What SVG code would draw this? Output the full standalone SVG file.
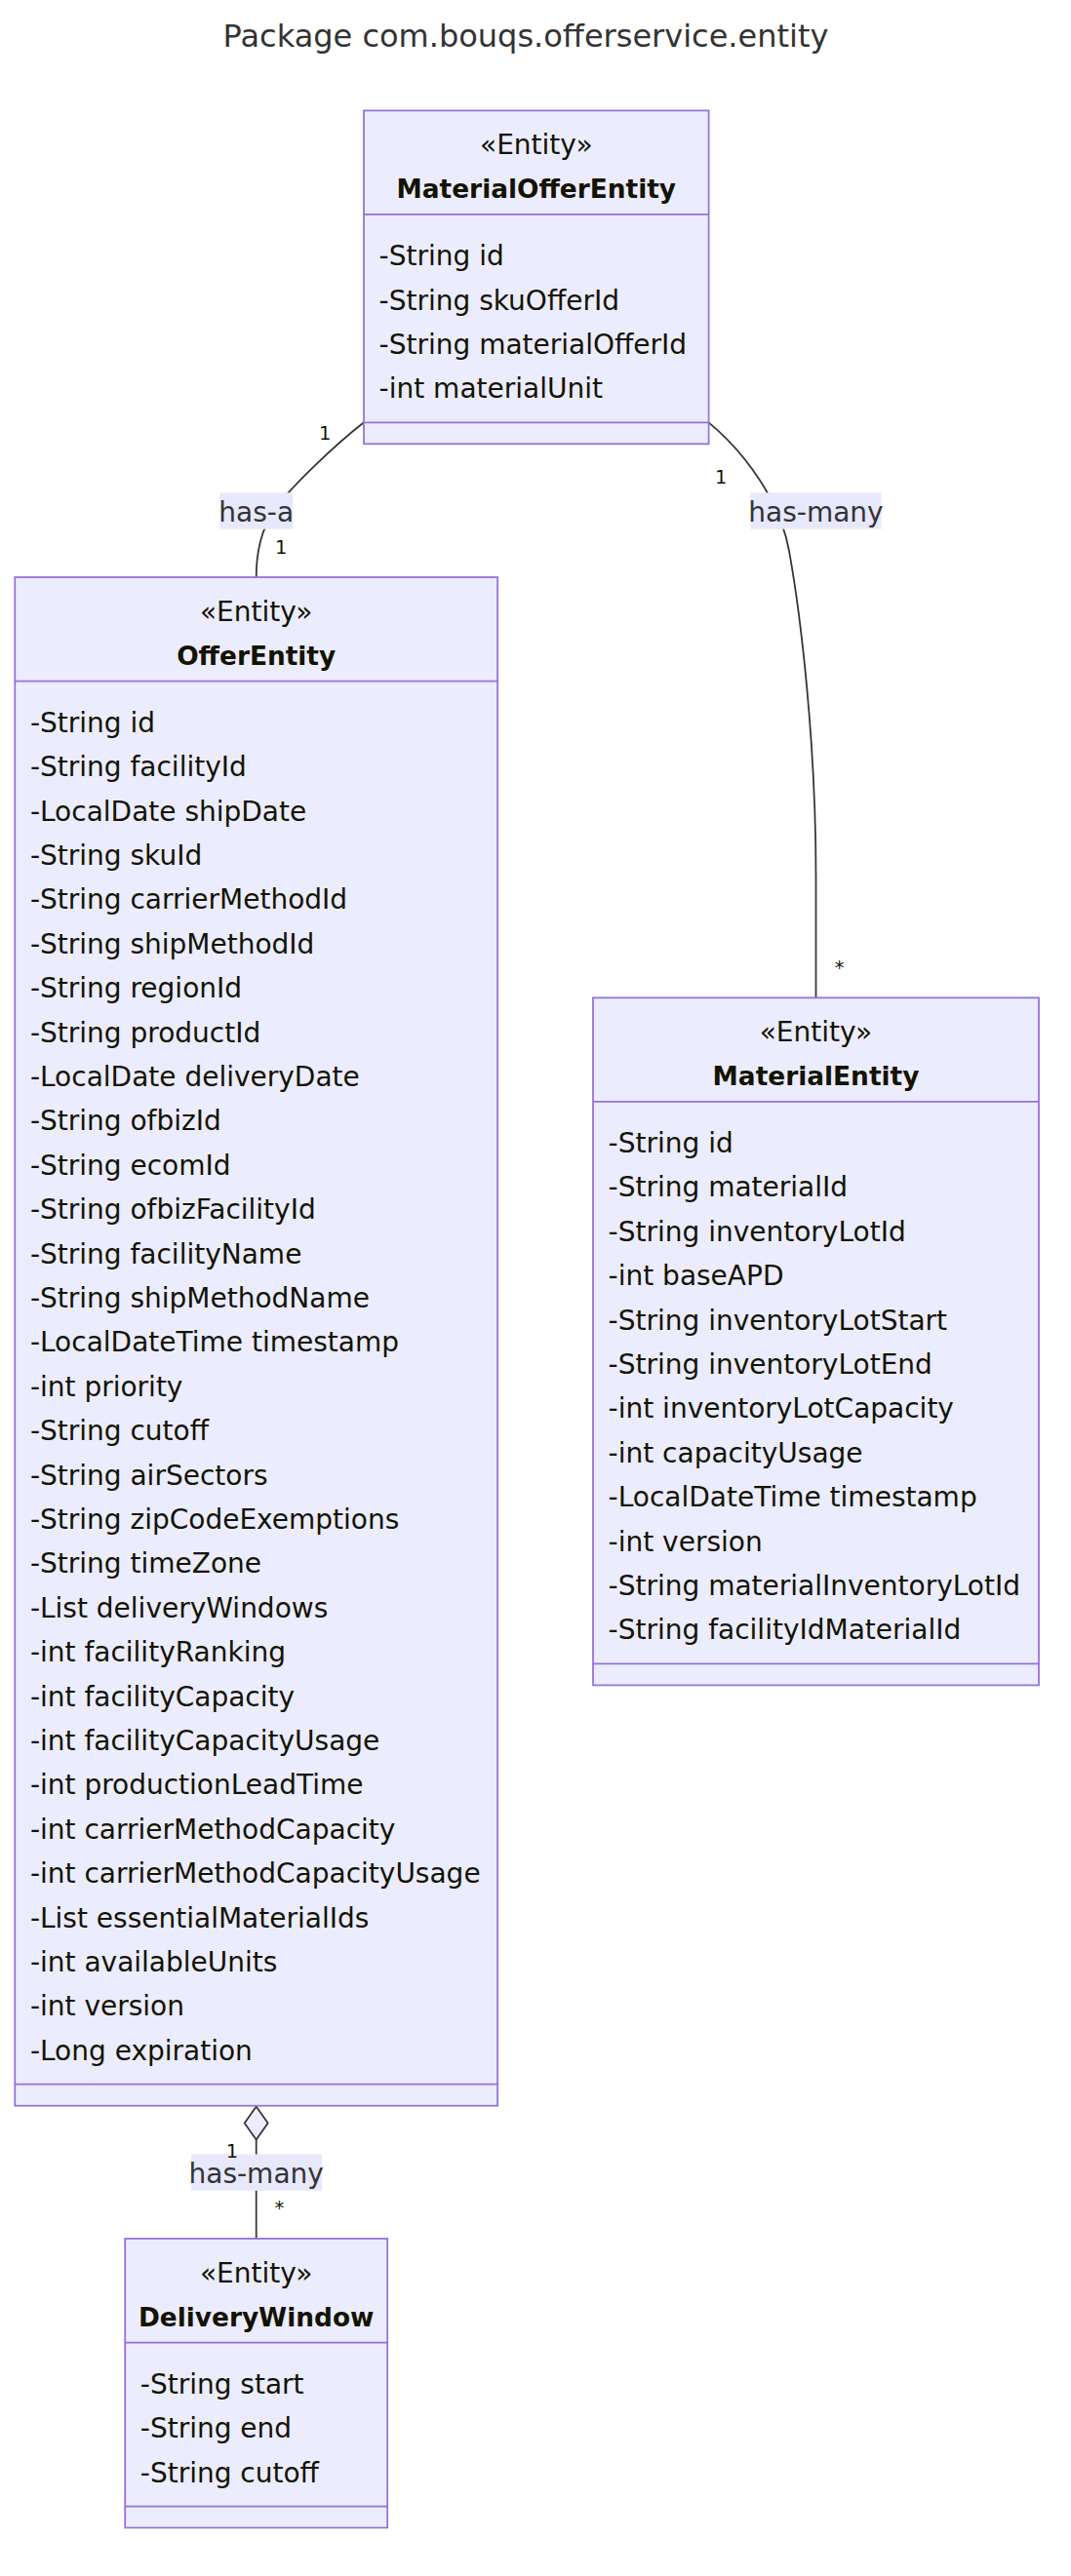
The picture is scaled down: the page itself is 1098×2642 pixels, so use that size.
<svg xmlns="http://www.w3.org/2000/svg" width="1098" height="2642" viewBox="0 0 1098 2642">
<style>
.box{fill:#ECECFF;stroke:#9370DB;stroke-width:1.75}
.dv{stroke:#9370DB;stroke-width:1.75}
.t{font-family:"DejaVu Sans","Liberation Sans",sans-serif;font-size:28px;fill:#131300}
.b{font-weight:bold;font-size:26.4px}
.c{text-anchor:middle}
.edge{fill:none;stroke:#333333;stroke-width:1.75}
.lbg{fill:#E8E8FC}
.lt{font-family:"DejaVu Sans","Liberation Sans",sans-serif;font-size:28px;fill:#333333;text-anchor:middle}
.term{font-family:"DejaVu Sans","Liberation Sans",sans-serif;font-size:19.5px;fill:#131300;text-anchor:middle}
.title{font-family:"DejaVu Sans","Liberation Sans",sans-serif;font-size:32px;fill:#333333;text-anchor:middle}
</style>
<rect width="1098" height="2642" fill="#ffffff"/>
<text class="title" x="539" y="47.6">Package com.bouqs.offerservice.entity</text>

<g id="connectors">
<path class="edge" d="M373,433.3 C345,455 295,502 280,525 C270.3,540 262.7,560 262.7,592"/>
<path class="edge" d="M726.6,433.3 C765,465 800,515 809,565 C820.7,630 836.5,760 836.5,900 L836.5,1023.3"/>
<path class="edge" d="M262.7,2194.5 L262.7,2296"/>
<polygon points="262.7,2160.5 274.7,2177.5 262.7,2194.5 250.7,2177.5" fill="#ECECFF" stroke="#333333" stroke-width="1.75"/>
</g>

<g id="edge-labels">
<rect class="lbg" x="225.3" y="505.3" width="75" height="37.4"/>
<text class="lt" x="262.7" y="535">has-a</text>
<rect class="lbg" x="769.5" y="505.3" width="134" height="37.4"/>
<text class="lt" x="836.5" y="535">has-many</text>
<rect class="lbg" x="196" y="2209.4" width="134" height="37.4"/>
<text class="lt" x="262.7" y="2239">has-many</text>
<text class="term" x="333.3" y="450.7">1</text>
<text class="term" x="288.3" y="568.3">1</text>
<text class="term" x="739.2" y="496.2">1</text>
<text class="term" x="860.7" y="998.8">*</text>
<text class="term" x="238" y="2213.2">1</text>
<text class="term" x="286.3" y="2271.4">*</text>
</g>

<g id="MaterialOfferEntity">
<rect class="box" x="373" y="113.4" width="353.6" height="341.9"/>
<line class="dv" x1="373" y1="219.9" x2="726.6" y2="219.9"/>
<line class="dv" x1="373" y1="433.3" x2="726.6" y2="433.3"/>
<text class="t c" x="549.8" y="157.9">«Entity»</text>
<text class="t c b" x="549.8" y="203">MaterialOfferEntity</text>
<text class="t"><tspan x="388.6" y="272.1">-String id</tspan><tspan x="388.6" y="317.5">-String skuOfferId</tspan><tspan x="388.6" y="362.9">-String materialOfferId</tspan><tspan x="388.6" y="408.3">-int materialUnit</tspan></text>
</g>

<g id="OfferEntity">
<rect class="box" x="15.3" y="592" width="494.8" height="1567.7"/>
<line class="dv" x1="15.3" y1="698.5" x2="510.1" y2="698.5"/>
<line class="dv" x1="15.3" y1="2137.7" x2="510.1" y2="2137.7"/>
<text class="t c" x="262.7" y="636.5">«Entity»</text>
<text class="t c b" x="262.7" y="681.6">OfferEntity</text>
<text class="t"><tspan x="30.9" y="750.7">-String id</tspan><tspan x="30.9" y="796.1">-String facilityId</tspan><tspan x="30.9" y="841.5">-LocalDate shipDate</tspan><tspan x="30.9" y="886.9">-String skuId</tspan><tspan x="30.9" y="932.3">-String carrierMethodId</tspan><tspan x="30.9" y="977.7">-String shipMethodId</tspan><tspan x="30.9" y="1023.1">-String regionId</tspan><tspan x="30.9" y="1068.5">-String productId</tspan><tspan x="30.9" y="1113.9">-LocalDate deliveryDate</tspan><tspan x="30.9" y="1159.3">-String ofbizId</tspan><tspan x="30.9" y="1204.7">-String ecomId</tspan><tspan x="30.9" y="1250.1">-String ofbizFacilityId</tspan><tspan x="30.9" y="1295.5">-String facilityName</tspan><tspan x="30.9" y="1340.9">-String shipMethodName</tspan><tspan x="30.9" y="1386.3">-LocalDateTime timestamp</tspan><tspan x="30.9" y="1431.7">-int priority</tspan><tspan x="30.9" y="1477.1">-String cutoff</tspan><tspan x="30.9" y="1522.5">-String airSectors</tspan><tspan x="30.9" y="1567.9">-String zipCodeExemptions</tspan><tspan x="30.9" y="1613.3">-String timeZone</tspan><tspan x="30.9" y="1658.7">-List deliveryWindows</tspan><tspan x="30.9" y="1704.1">-int facilityRanking</tspan><tspan x="30.9" y="1749.5">-int facilityCapacity</tspan><tspan x="30.9" y="1794.9">-int facilityCapacityUsage</tspan><tspan x="30.9" y="1840.3">-int productionLeadTime</tspan><tspan x="30.9" y="1885.7">-int carrierMethodCapacity</tspan><tspan x="30.9" y="1931.1">-int carrierMethodCapacityUsage</tspan><tspan x="30.9" y="1976.5">-List essentialMaterialIds</tspan><tspan x="30.9" y="2021.9">-int availableUnits</tspan><tspan x="30.9" y="2067.3">-int version</tspan><tspan x="30.9" y="2112.7">-Long expiration</tspan></text>
</g>

<g id="MaterialEntity">
<rect class="box" x="608" y="1023.3" width="457" height="705.1"/>
<line class="dv" x1="608" y1="1129.8" x2="1065" y2="1129.8"/>
<line class="dv" x1="608" y1="1706.4" x2="1065" y2="1706.4"/>
<text class="t c" x="836.5" y="1067.8">«Entity»</text>
<text class="t c b" x="836.5" y="1112.9">MaterialEntity</text>
<text class="t"><tspan x="623.6" y="1182">-String id</tspan><tspan x="623.6" y="1227.4">-String materialId</tspan><tspan x="623.6" y="1272.8">-String inventoryLotId</tspan><tspan x="623.6" y="1318.2">-int baseAPD</tspan><tspan x="623.6" y="1363.6">-String inventoryLotStart</tspan><tspan x="623.6" y="1409">-String inventoryLotEnd</tspan><tspan x="623.6" y="1454.4">-int inventoryLotCapacity</tspan><tspan x="623.6" y="1499.8">-int capacityUsage</tspan><tspan x="623.6" y="1545.2">-LocalDateTime timestamp</tspan><tspan x="623.6" y="1590.6">-int version</tspan><tspan x="623.6" y="1636">-String materialInventoryLotId</tspan><tspan x="623.6" y="1681.4">-String facilityIdMaterialId</tspan></text>
</g>

<g id="DeliveryWindow">
<rect class="box" x="128.2" y="2296" width="269" height="296.5"/>
<line class="dv" x1="128.2" y1="2402.5" x2="397.2" y2="2402.5"/>
<line class="dv" x1="128.2" y1="2570.5" x2="397.2" y2="2570.5"/>
<text class="t c" x="262.7" y="2340.5">«Entity»</text>
<text class="t c b" x="262.7" y="2385.6">DeliveryWindow</text>
<text class="t"><tspan x="143.8" y="2454.7">-String start</tspan><tspan x="143.8" y="2500.1">-String end</tspan><tspan x="143.8" y="2545.5">-String cutoff</tspan></text>
</g>
</svg>
